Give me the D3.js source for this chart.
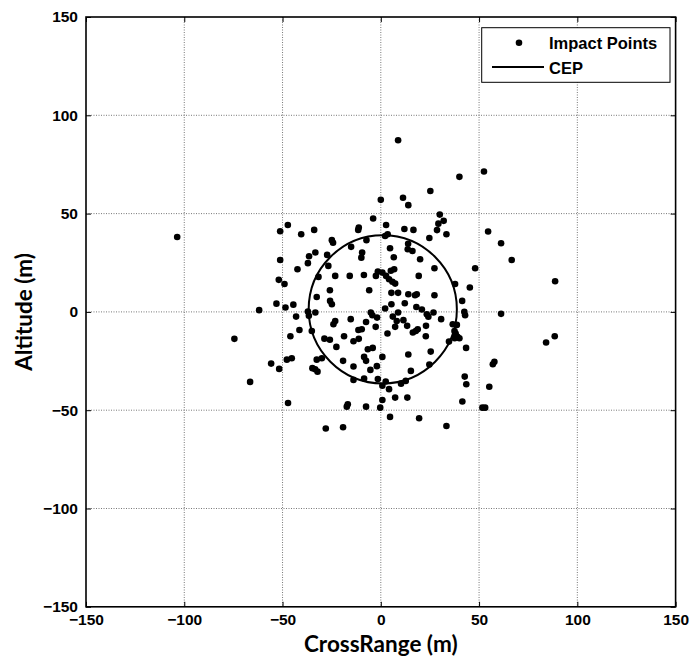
<!DOCTYPE html>
<html>
<head>
<meta charset="utf-8">
<script src="https://cdn.jsdelivr.net/npm/d3@7/dist/d3.min.js"></script>
<style>
  html, body { margin: 0; padding: 0; background: #fff; }
  svg { display: block; }
</style>
</head>
<body>
<svg id="chart" width="693" height="658"></svg>
<script>
// Impact point coordinates (m)
const crossRange = [
  0, -3.9, -51.2, -47.3, -40.5, -33.9, -24.9, -24.3, -11.5, -11.2, -15.1, -7.3, -51.2, -36.5, -33.3, -27.3, -9.5, -9.9,
  8.8, 40, 52.5, 25.2, 11.3, 14, 30, 32, 29.3, 28.6, 33.4, 24.7, 2.7, 12, 16.6, 2.2, 3.5, 54.6, 61.2, 66.6, 4.7, 13.9, 13.7, 16.1, 6.6, 20,
  -37.1, -42.4, -26.7, -31.7, -23.2, -15.8, -8.6, -2.5, -1.5, -51.9, -49, -25.9, -5.9, -32.6, -25.8, -24.9, -53.1, -48.5, -44.5, -61.9,
  -37.1, -36.6, -33.3, -43.1, -5.1, -4.3, -1.9, -15.3, -23.2, -24.1, -7.5, -2.6, -41.4, -35.1, -11.4, -9.7, -74.5, -46, -28.7, -25.9,
  -18.7, -13.9, -11.2, -22.6, -6.6, -4.1, -47.8, -45.3, -55.8, -51.7, -32.6, -30, -19.2, -8.5, -7.5, -13.9, -34.8, -33.4, -32.2, -5.3,
  -66.5, -13.9, -8.5, -1.5, -47.2, -16.8, -17.3, -7.5, -0.3, -28, -19.2,
  0.8, 2.7, 5.1, 6.8, 4.2, 5.9, 7.3, 19.3, 27.3, 48, 88.7, 37.8, 45.3, 5.4, 8.8, 14, 17.4, 18.3, 27.3, 41.4, 5.4, 12.2, 18.1, 20.9,
  23.4, 24.2, 26.8, 2.2, 8.8, 42.5, 42.9, 61.2, 6.1, 8.1, 11.5, 30.7, 7.3, 13.4, 23, 18.8, 17.8, 16.3, 36.6, 38.7, 37.5, 38.1, 39,
  37.6, 40, 34.7, 3.4, 22.9, 88.5, 84.1, 25.4, 43.4, 14, 0.8, 24.7, -2, 15.3, 57, 57.8, 42.7, 43.5, 55.2, 2.5, 0.8, 4.2, 10.3, 12.7,
  7.3, 13.5, 0.8, 41.5, 51.7, 53.1, 4.7, 19.5, 33.4, -103.6
];
const altitude = [
  57, 47.5, 41.0, 44.2, 39.5, 41.7, 36.5, 35.2, 41.7, 42.9, 33.1, 36.5, 26.4, 28.3, 30.2, 29.0, 30.2, 27.6,
  87.3, 68.7, 71.4, 61.5, 58.1, 54.3, 49.5, 46.3, 44.9, 41.6, 39.5, 37.6, 44.2, 42.2, 41.7, 38.6, 39.5, 40.9, 34.9, 26.4, 32.4, 34.7, 31.9, 31.0, 27.8, 26.8,
  24.8, 21.7, 23.4, 17.8, 18.3, 18.3, 18.8, 18.3, 20.5, 16.3, 14.2, 11.0, 11.0, 7.6, 5.6, 3.9, 4.2, 2.2, 3.7, 0.9,
  0.2, -2, -0.3, -2.4, -0.3, -1.7, -2.9, -3.7, -4.6, -6.3, -5.1, -7.6, -9.2, -9.7, -9.2, -8.8, -13.7, -12.4, -13.6, -14.2,
  -12.4, -14.9, -13.7, -17.8, -19, -18.3, -24.3, -23.6, -26.3, -29, -24.3, -23.6, -24.9, -22.9, -24.9, -27.8, -28.6, -29.2, -30.4, -29.5,
  -35.6, -34.6, -33.9, -34.1, -46.3, -47, -48.2, -48.2, -48.7, -59.3, -58.7,
  20, 18.3, 20.9, 21.7, 16.6, 15.3, 14.4, 18.3, 22.2, 22.2, 15.6, 14.2, 12.4, 9.7, 9.7, 9, 8.5, 9, 8.5, 5.6, 3.9, 4.4, 2.5, 1.2,
  -1.2, -2.5, -0.3, 1.7, -0.3, 0, -1.7, -1, -2.4, -4.6, -4.2, -3.7, -7.6, -7.1, -7.1, -8.8, -9.7, -10.5, -6.3, -6.6, -9.7, -11, -12.7,
  -13.4, -13.4, -15.1, -11, -12.4, -12.4, -15.6, -20.2, -18.3, -21.7, -22.9, -26.8, -27.6, -30, -26.6, -25.4, -32.9, -36.8, -38.1, -35.4, -37.6, -39.3, -36.5, -35.1,
  -43.6, -43.6, -44.8, -45.6, -48.7, -48.7, -53.4, -54.1, -58, 38.1
];

// Circular error probable
const cepCenter = [1, 1.3];
const cepRadius = 37.7;

const tickValues = [-150, -100, -50, 0, 50, 100, 150];
const xDomain = [-150, 150];
const yDomain = [-150, 150];
const legendLabels = ["Impact Points", "CEP"];
const xTitle = "CrossRange (m)";
const yTitle = "Altitude (m)";

const tickFont = { family: "'Liberation Sans', Arial, sans-serif", size: "15.5px", weight: "bold" };
const titleFont = { family: "Lato, 'Open Sans', sans-serif", size: "22.5px", weight: "bold" };

const svg = d3.select("#chart");
const margin = { left: 86, right: 17.4, top: 17, bottom: 51.2 };
const W = 693, H = 658;

const x = d3.scaleLinear().domain(xDomain).range([margin.left, W - margin.right]);
const y = d3.scaleLinear().domain(yDomain).range([H - margin.bottom, margin.top]);

// dotted grid
const grid = svg.append("g");
grid.selectAll("line.vg").data(tickValues.slice(1, -1)).join("line")
  .attr("x1", d => x(d)).attr("x2", d => x(d))
  .attr("y1", y(150)).attr("y2", y(-150))
  .attr("stroke", "#555").attr("stroke-width", 0.8).attr("stroke-dasharray", "1,1.5");
grid.selectAll("line.hg").data(tickValues.slice(1, -1)).join("line")
  .attr("y1", d => y(d)).attr("y2", d => y(d))
  .attr("x1", x(-150)).attr("x2", x(150))
  .attr("stroke", "#555").attr("stroke-width", 0.8).attr("stroke-dasharray", "1,1.5");

// axes with inward ticks on all four sides
const tl = 5;
const axB = d3.axisBottom(x).tickValues(tickValues).tickSizeInner(-tl).tickSizeOuter(0).tickPadding(7.5);
const axT = d3.axisTop(x).tickValues(tickValues).tickSizeInner(-tl).tickSizeOuter(0).tickFormat("");
const axL = d3.axisLeft(y).tickValues(tickValues).tickSizeInner(-tl).tickSizeOuter(0).tickPadding(8);
const axR = d3.axisRight(y).tickValues(tickValues).tickSizeInner(-tl).tickSizeOuter(0).tickFormat("");

function styleAxis(g) {
  g.select(".domain").remove();
  g.selectAll(".tick line").attr("stroke", "#000").attr("stroke-width", 1);
  g.selectAll(".tick text")
    .attr("fill", "#000")
    .style("font-family", tickFont.family)
    .style("font-size", tickFont.size)
    .style("font-weight", tickFont.weight);
}
svg.append("g").attr("transform", `translate(0,${y(-150)})`).call(axB).call(styleAxis);
svg.append("g").attr("transform", `translate(0,${y(150)})`).call(axT).call(styleAxis);
svg.append("g").attr("transform", `translate(${x(-150)},0)`).call(axL).call(styleAxis);
svg.append("g").attr("transform", `translate(${x(150)},0)`).call(axR).call(styleAxis);

// frame
svg.append("rect")
  .attr("x", x(-150)).attr("y", y(150))
  .attr("width", x(150) - x(-150)).attr("height", y(-150) - y(150))
  .attr("fill", "none").attr("stroke", "#000").attr("stroke-width", 1.6);

// impact points
const pts = crossRange.map((cx, i) => ({ cx, cy: altitude[i] }));
svg.append("g").selectAll("circle").data(pts).join("circle")
  .attr("cx", d => x(d.cx)).attr("cy", d => y(d.cy)).attr("r", 3.3).attr("fill", "#000");

// CEP circle
svg.append("ellipse")
  .attr("cx", x(cepCenter[0])).attr("cy", y(cepCenter[1]))
  .attr("rx", x(cepRadius) - x(0)).attr("ry", y(0) - y(cepRadius))
  .attr("fill", "none").attr("stroke", "#000").attr("stroke-width", 2);

// axis titles
function titleStyle(t) {
  t.attr("fill", "#000")
    .style("font-family", titleFont.family)
    .style("font-size", titleFont.size)
    .style("font-weight", titleFont.weight);
}
svg.append("text").call(titleStyle)
  .attr("x", x(0)).attr("y", 652).attr("text-anchor", "middle").text(xTitle);
svg.append("text").call(titleStyle)
  .attr("transform", `translate(32,${y(0)}) rotate(-90)`).attr("text-anchor", "middle").text(yTitle);

// legend
const lg = svg.append("g");
lg.append("rect").attr("x", 481.7).attr("y", 27.7).attr("width", 188.3).attr("height", 54.6)
  .attr("fill", "#fff").attr("stroke", "#000").attr("stroke-width", 1);
lg.append("circle").attr("cx", 519).attr("cy", 42.7).attr("r", 3.3).attr("fill", "#000");
lg.append("line").attr("x1", 492).attr("x2", 544).attr("y1", 67).attr("y2", 67)
  .attr("stroke", "#000").attr("stroke-width", 2);
lg.selectAll("text").data(legendLabels).join("text")
  .attr("x", 549).attr("y", (d, i) => [49, 73.5][i])
  .attr("fill", "#000")
  .style("font-family", tickFont.family)
  .style("font-size", "16.5px")
  .style("font-weight", "bold")
  .text(d => d);
</script>
</body>
</html>
